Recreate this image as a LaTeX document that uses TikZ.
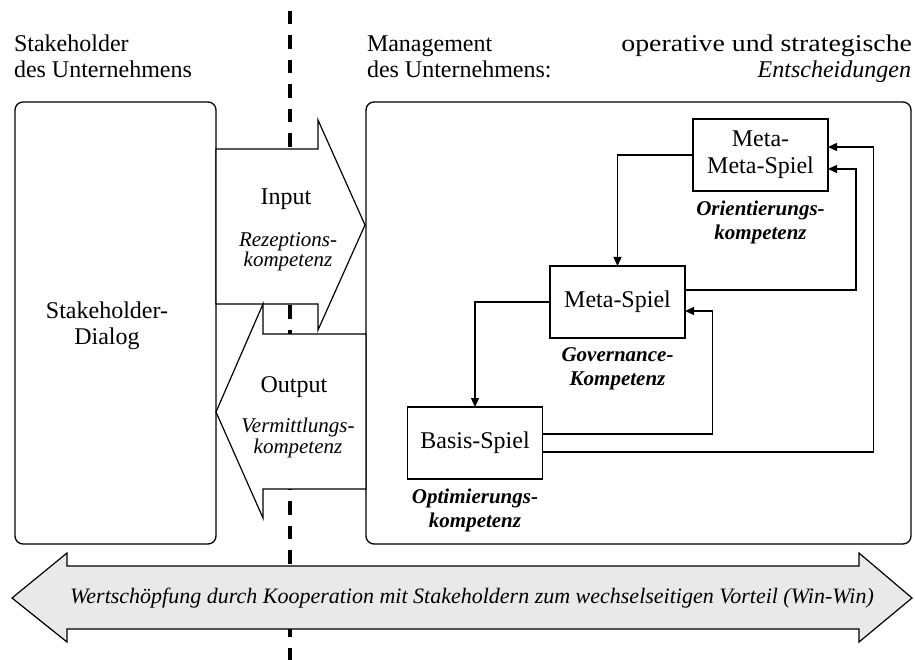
\documentclass[tikz,border=0pt]{standalone}
\usepackage{fontspec}
\usepackage{graphicx}
\setmainfont{Liberation Serif}
\usetikzlibrary{arrows.meta,calc,positioning}
\begin{document}
\begin{tikzpicture}[x=1pt,y=-1pt,
  every node/.style={inner sep=0pt, outer sep=0pt},
  up/.style={font=\fontsize{24}{26}\selectfont, align=center},
  it/.style={font=\fontsize{21}{20.5}\selectfont\itshape, align=center},
  bit/.style={font=\fontsize{21}{24.5}\selectfont\bfseries\itshape, align=center},
  spielbox/.style={draw, line width=1.5pt, minimum width=135pt, minimum height=72pt, font=\fontsize{24}{27}\selectfont, align=center, fill=white},
  bigbox/.style={draw, line width=1.3pt, rounded corners=8pt, fill=white},
  bigarrow/.style={draw, line width=1.2pt, fill=white, line join=miter},
  conn/.style={line width=1.3pt, -{Triangle[length=9pt,width=8pt]}},
]
\useasboundingbox (0,0) rectangle (915,660);
% dashed divider
\coordinate (dtop) at (290,11);
\coordinate (dbot) at (290,660);
\draw[line width=3.5pt, dash pattern=on 13.5pt off 11pt] (dtop) -- (dbot);

% headings
\node[up, anchor=base west] (h1) at (14,52) {Stakeholder};
\node[up, anchor=base west] (h2) at (14,78) {des Unternehmens};
\node[up, anchor=base west] (h3) at (367,52) {Management};
\node[up, anchor=base west] (h4) at (367,78) {des Unternehmens:};
\node[anchor=base east, font=\fontsize{24}{26}\selectfont] (h5) at (912,52) {\scalebox{1.16}[1]{operative und strategische}};
\node[anchor=base east, font=\fontsize{24}{26}\selectfont\itshape] (h6) at (911,78) {Entscheidungen};

% big boxes
\node[bigbox, minimum width=201pt, minimum height=442pt, anchor=north west] (sh) at (15,102) {};
\node[up] (shd) at (107,326) {Stakeholder-\\Dialog};
\node[bigbox, minimum width=545pt, minimum height=442pt, anchor=north west] (mg) at (366,102) {};

% input / output arrows
\draw[bigarrow] (216,149) -- (318,149) -- (318,120) -- (365,225) -- (318,330) -- (318,304) -- (216,304) -- cycle;
\draw[bigarrow] (366,334) -- (263,334) -- (263,304) -- (216,412) -- (263,518) -- (263,489) -- (366,489) -- cycle;
\node[up, anchor=base] (inp) at (286,205) {Input};
\node[it] (rez) at (288,252) {Rezeptions-\\kompetenz};
\node[up, anchor=base] (outp) at (294,392) {Output};
\node[it] (ver) at (298,438) {Vermittlungs-\\kompetenz};

% game boxes
\node[spielbox] (mm) at (760.5,155) {Meta-\\Meta-Spiel};
\node[spielbox] (ms) at (617.5,302) {Meta-Spiel};
\node[spielbox] (bs) at (475,443) {Basis-Spiel};
\node[bit, below=9.5pt of mm] (lmm) {Orientierungs-\\kompetenz};
\node[bit, below=9.5pt of ms] (lms) {Governance-\\Kompetenz};
\node[bit, below=9.5pt of bs] (lbs) {Optimierungs-\\kompetenz};

% connectors
\draw[conn] (mm.west) -| (ms.north);
\draw[conn] (ms.west) -| (bs.north);
\draw[conn] ($(bs.east)+(0,-9)$) -- ($(bs.east)+(170,-9)$) |- ($(ms.east)+(0,9)$);
\draw[conn] ($(bs.east)+(0,9)$) -- ($(bs.east)+(331,9)$) |- ($(mm.east)+(0,-8)$);
\draw[conn] ($(ms.east)+(0,-12)$) -- ($(ms.east)+(171,-12)$) |- ($(mm.east)+(0,14)$);

% bottom double arrow
\draw[line width=1.2pt, fill={rgb,255:red,233;green,233;blue,233}, line join=miter]
  (12,598) -- (67,553) -- (67,566) -- (859,566) -- (859,553) -- (912,598)
  -- (859,642) -- (859,629) -- (67,629) -- (67,642) -- cycle;
\node[it, font=\fontsize{22}{22}\selectfont\itshape] (ws) at (472,598) {Wertschöpfung durch Kooperation mit Stakeholdern zum wechselseitigen Vorteil (Win-Win)};
\end{tikzpicture}
\end{document}
